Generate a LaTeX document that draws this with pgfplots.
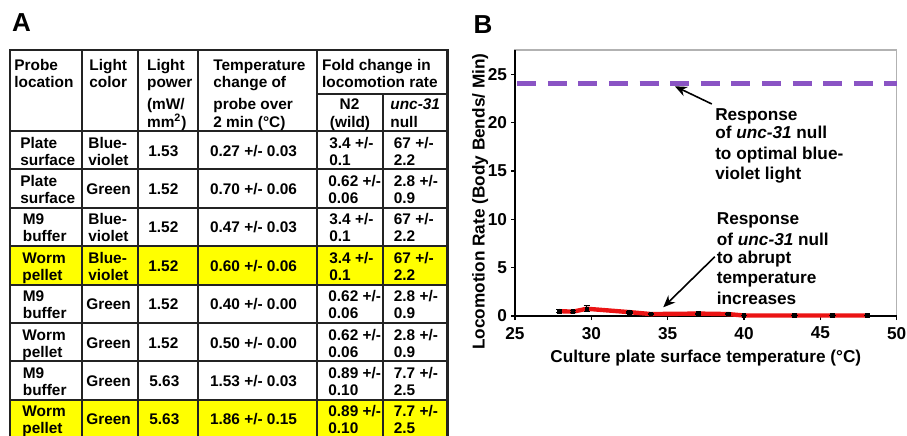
\documentclass[border=0pt]{standalone}
\usepackage{fontspec}
\setmainfont{Liberation Sans}
\usepackage{pgfplots}
\pgfplotsset{compat=1.18}
\usetikzlibrary{arrows.meta}
\definecolor{violetc}{RGB}{138,84,196}
\definecolor{redc}{RGB}{235,20,20}
\definecolor{yel}{RGB}{255,255,0}
\definecolor{lin}{RGB}{35,35,35}
% table cell helpers (pixel-like units)
\newcommand{\two}[4]{\node[t] at (#1,#2+17) {#3}; \node[t] at (#1,#2+34) {#4};}
\newcommand{\one}[3]{\node[t] at (#1,#2+25) {#3};}
\newcommand{\onec}[3]{\node[tc] at (#1,#2+25) {#3};}
\begin{document}
\begin{tikzpicture}
\path[use as bounding box] (0,0) rectangle (453.5pt,-217.5pt);
\begin{scope}[x=0.5pt,y=-0.5pt,
  t/.style={inner sep=0pt,anchor=base west,font=\fontsize{7.7}{9}\selectfont\bfseries},
  tc/.style={t,anchor=base}]
% yellow rows
\fill[yel] (10,246) rectangle (447.7,284.5);
\fill[yel] (10,399.5) rectangle (447.7,437.5);
% grid lines
\begin{scope}[draw=lin, line width=1pt]
\foreach \yy in {131,169.3,207.7,246,284.5,323,361,399.5} \draw (10,\yy) -- (447.7,\yy);
\draw (316.7,94.3) -- (447.7,94.3);
\foreach \xx in {81.7,138.3,198.3,316.7} \draw (\xx,50) -- (\xx,437.5);
\draw (383.3,94.3) -- (383.3,437.5);
\draw[line width=1.3pt] (10,437.5) -- (10,50) -- (447.7,50) -- (447.7,437.5) -- cycle;
\end{scope}
% header
\node[t] at (14,70) {Probe};
\node[t] at (14,87.5) {location};
\node[t] at (89,70) {Light};
\node[t] at (89,87.5) {color};
\node[t] at (146.7,70) {Light};
\node[t] at (146.7,87.5) {power};
\node[t] at (146.7,109.5) {(mW/};
\node[t] at (146.7,127) {mm\textsuperscript{2})};
\node[t] at (213,70) {Temperature};
\node[t] at (213,87.5) {change of};
\node[t] at (213,109.5) {probe over};
\node[t] at (213,127) {2 min (°C)};
\node[t] at (321.7,70) {Fold change in};
\node[t] at (321.7,87.5) {locomotion rate};
\node[tc] at (349.5,109.5) {N2};
\node[tc] at (350,127) {(wild)};
\node[t] at (390,109.5) {\textit{unc-31}};
\node[t] at (390,127) {null};
% rows
\two{20}{131}{Plate}{surface} \two{88}{131}{Blue-}{violet} \one{148}{131}{1.53}
\onec{253.5}{131}{0.27 +/- 0.03} \two{329}{131}{3.4 +/-}{0.1} \two{393.5}{131}{67 +/-}{2.2}
\two{20}{169.3}{Plate}{surface} \one{86}{169.3}{Green} \one{148}{169.3}{1.52}
\onec{253.5}{169.3}{0.70 +/- 0.06} \two{328}{169.3}{0.62 +/-}{0.06} \two{393.5}{169.3}{2.8 +/-}{0.9}
\two{22.5}{207.7}{M9}{buffer} \two{88}{207.7}{Blue-}{violet} \one{148}{207.7}{1.52}
\onec{253.5}{207.7}{0.47 +/- 0.03} \two{329}{207.7}{3.4 +/-}{0.1} \two{393.5}{207.7}{67 +/-}{2.2}
\two{22}{246}{Worm}{pellet} \two{88}{246}{Blue-}{violet} \one{148}{246}{1.52}
\onec{253.5}{246}{0.60 +/- 0.06} \two{329}{246}{3.4 +/-}{0.1} \two{393.5}{246}{67 +/-}{2.2}
\two{22.5}{284.5}{M9}{buffer} \one{86}{284.5}{Green} \one{148}{284.5}{1.52}
\onec{253.5}{284.5}{0.40 +/- 0.00} \two{328}{284.5}{0.62 +/-}{0.06} \two{393.5}{284.5}{2.8 +/-}{0.9}
\two{22}{323}{Worm}{pellet} \one{86}{323}{Green} \one{148}{323}{1.52}
\onec{253.5}{323}{0.50 +/- 0.00} \two{328}{323}{0.62 +/-}{0.06} \two{393.5}{323}{2.8 +/-}{0.9}
\two{22.5}{361}{M9}{buffer} \one{86}{361}{Green} \one{149}{361}{5.63}
\onec{253.5}{361}{1.53 +/- 0.03} \two{328}{361}{0.89 +/-}{0.10} \two{393.5}{361}{7.7 +/-}{2.5}
\two{22}{399.5}{Worm}{pellet} \one{86}{399.5}{Green} \one{149}{399.5}{5.63}
\onec{253.5}{399.5}{1.86 +/- 0.15} \two{328}{399.5}{0.89 +/-}{0.10} \two{393.5}{399.5}{7.7 +/-}{2.5}
% panel letters
\node[inner sep=0pt,anchor=base west,font=\fontsize{13}{15}\selectfont\bfseries] at (11.7,31.7) {A};
\node[inner sep=0pt,anchor=base west,font=\fontsize{13}{15}\selectfont\bfseries] at (473.3,33.3) {B};
\end{scope}
\begin{axis}[
  at={(257.5pt,-158pt)}, anchor=south west,
  scale only axis, width=190.85pt, height=133pt,
  xmin=25, xmax=50, ymin=0, ymax=27.5,
  xtick={25,30,...,50}, ytick={0,5,...,25},
  xtick pos=left, ytick pos=left, tick align=outside,
  major tick length=2pt,
  tick style={black, line width=0.6pt},
  axis line style={draw=gray!60, line width=0.6pt},
  ticklabel style={font=\fontsize{8.6}{10}\selectfont\bfseries},
  yticklabel style={xshift=1.5pt},
  /pgf/number format/assume math mode=true,
  xlabel={Culture plate surface temperature (°C)},
  ylabel={Locomotion Rate (Body Bends/ Min)},
  label style={font=\fontsize{8.6}{10}\selectfont\bfseries},
  ylabel style={at={(ticklabel cs:0.43,-7pt)}},
  xlabel style={yshift=1.5pt},
  clip=false,
]
\draw[black, line width=0.7pt] (rel axis cs:0,1) -- (rel axis cs:0,0) -- (rel axis cs:1,0);
\addplot[violetc, line width=2.5pt, dash pattern=on 9.5pt off 5.8pt] coordinates {(25.15,24) (50,24)};
\addplot[redc, line width=2.2pt] coordinates {
(27.9,0.5) (28.8,0.45) (29.7,0.75) (32.5,0.4) (33.9,0.2) (37.0,0.25) (38.96,0.2)
(40.0,0.05) (43.3,0.05) (45.8,0.05) (48.1,0.05)};
\addplot[black, only marks, mark=square*, mark size=0.9pt,
  error bars/.cd, y dir=both, y explicit,
  error bar style={line width=0.6pt},
  error mark options={rotate=90, mark size=1.6pt, line width=0.6pt}]
coordinates {
(27.9,0.5) +- (0,0.15)
(28.8,0.45) +- (0,0.1)
(29.7,0.75) +- (0,0.3)
(32.5,0.4) +- (0,0.08)
(33.9,0.2) +- (0,0.05)
(37.0,0.25) +- (0,0.05)
(38.96,0.2) +- (0,0.05)
(40.0,0.05) +- (0,0.02)
(43.3,0.05) +- (0,0.02)
(45.8,0.05) +- (0,0.02)
(48.1,0.05) +- (0,0.02)};
% annotations
\begin{scope}[every node/.style={inner sep=0pt,anchor=base west,font=\fontsize{8.6}{10}\selectfont\bfseries}]
\node at (axis cs:38.09,20.26) {Response};
\node at (axis cs:38.09,18.30) {of \textit{unc-31} null};
\node at (axis cs:38.09,16.23) {to optimal blue-};
\node at (axis cs:38.09,14.16) {violet light};
\node at (axis cs:38.2,9.41) {Response};
\node at (axis cs:38.2,7.34) {of \textit{unc-31} null};
\node at (axis cs:38.2,5.38) {to abrupt};
\node at (axis cs:38.2,3.31) {temperature};
\node at (axis cs:38.2,1.24) {increases};
\end{scope}
\draw[-{Stealth[length=6pt,width=5pt]}, line width=0.8pt] (axis cs:37.89,21.92) -- (axis cs:35.47,23.75);
\draw[-{Stealth[length=6pt,width=5pt]}, line width=0.8pt] (axis cs:38.09,6.13) -- (axis cs:34.71,0.9);
\end{axis}
\end{tikzpicture}
\end{document}
